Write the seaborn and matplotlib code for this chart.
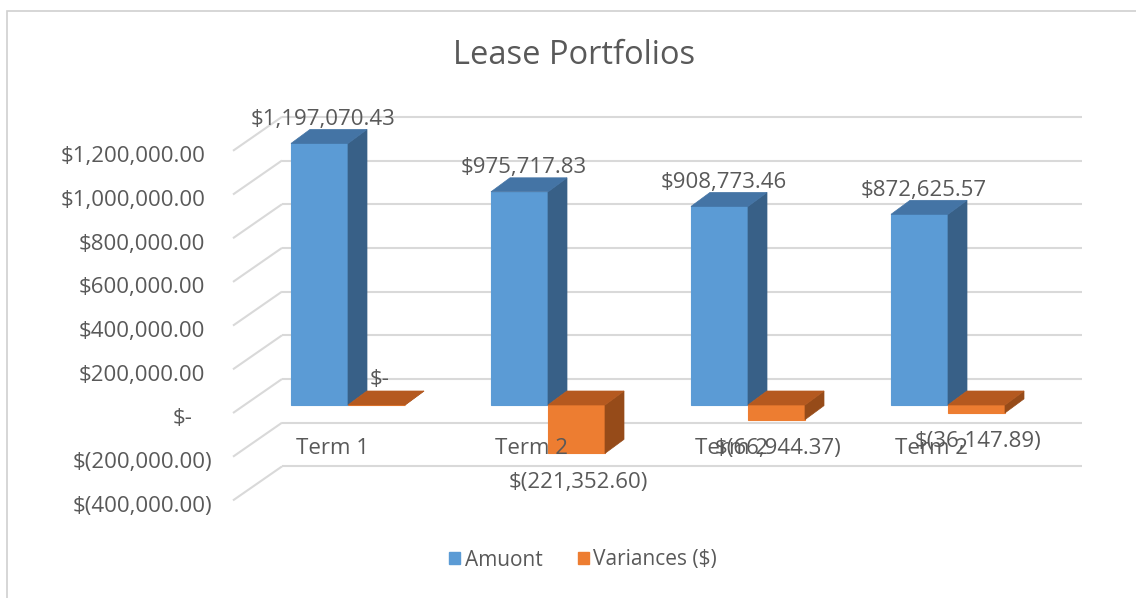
import numpy as np
import pandas as pd
import matplotlib
matplotlib.use("Agg")
import matplotlib.pyplot as plt
from matplotlib.patches import Polygon, Patch, Rectangle
import seaborn as sns

# ---------------- data ----------------
categories = ["Term 1", "Term 2", "Term 2", "Term 2"]
amount = [1197070.43, 975717.83, 908773.46, 872625.57]
variances = [0.0, -221352.60, -66944.37, -36147.89]
series_names = ["Amuont", "Variances ($)"]
y_ticks = [-400000, -200000, 0, 200000, 400000, 600000, 800000, 1000000, 1200000]
title = "Lease Portfolios"

# ---------------- style ----------------
sns.set_theme(style="white")
plt.rcParams['font.family'] = ['Open Sans', 'DejaVu Sans']

TEXT = '#595959'
GRID = '#D9D9D9'
front_colors = ['#5B9BD5', '#ED7D31']
top_colors = ['#4474A5', '#B5591F']
side_colors = ['#386087', '#964B19']
FS = 16


def acct(v):
    if v == 0:
        return "$-"
    s = f"{abs(v):,.2f}"
    return f"$({s})" if v < 0 else f"${s}"


df = pd.DataFrame({
    "pos": list(range(len(categories))) * 2,
    "series": [series_names[0]] * len(amount) + [series_names[1]] * len(variances),
    "value": amount + variances,
})

W, H = 1136, 598
fig = plt.figure(figsize=(W / 100, H / 100), dpi=100)
fig.patch.set_facecolor('white')
ax = fig.add_axes([248 / W, 1 - 492.4 / H, 800 / W, (492.4 - 142.8) / H])

sns.barplot(data=df, x="pos", y="value", hue="series", hue_order=series_names,
            palette=front_colors, width=0.57, dodge=True, ax=ax, saturation=1,
            errorbar=None)
if ax.get_legend() is not None:
    ax.get_legend().remove()

ax.set_xlim(-0.5, len(categories) - 0.5)
ax.set_ylim(y_ticks[0], y_ticks[-1])
ax.axis('off')


def px2data(dxp, dyp):
    inv = ax.transData.inverted()
    o = ax.transData.transform((0, 0))
    p = inv.transform(o + np.array([dxp, dyp]))
    return p[0], p[1]


x_left = -0.5
x_right = len(categories) - 0.5

# back-wall gridlines and side-wall diagonals
bx, by = px2data(34, 26)
lx, ly = px2data(-15, -8)
for v in y_ticks:
    ax.plot([x_left + bx, x_right + bx], [v + by, v + by], color=GRID, lw=1.5,
            zorder=1, clip_on=False, solid_capstyle='butt')
    ax.plot([x_left + lx, x_left + bx], [v + ly, v + by], color=GRID, lw=1.5,
            zorder=1, clip_on=False, solid_capstyle='butt')
    off = -43 if v > 0 else (-36 if v < 0 else -55)
    tx, ty = px2data(off, -14)
    ax.text(x_left + tx, v + ty, acct(v), ha='right', va='center', fontsize=FS,
            color=TEXT, clip_on=False)

# 3D faces for bars
dx, dy = px2data(19, 14)
for ci, cont in enumerate(ax.containers):
    z = 3 + ci * 2
    for bar in cont.patches:
        bar.set_zorder(z)
        bar.set_edgecolor(front_colors[ci])
        bar.set_linewidth(0.8)
        bar.set_clip_on(False)
        x0 = bar.get_x()
        x1 = x0 + bar.get_width()
        y0 = bar.get_y()
        h = bar.get_height()
        lo, hi = min(y0, y0 + h), max(y0, y0 + h)
        side = Polygon([(x1, lo), (x1, hi), (x1 + dx, hi + dy), (x1 + dx, lo + dy)],
                       closed=True, fc=side_colors[ci], ec=side_colors[ci], lw=0.5,
                       zorder=z, clip_on=False)
        top = Polygon([(x0, hi), (x1, hi), (x1 + dx, hi + dy), (x0 + dx, hi + dy)],
                      closed=True, fc=top_colors[ci], ec=top_colors[ci], lw=0.5,
                      zorder=z, clip_on=False)
        ax.add_patch(side)
        ax.add_patch(top)

# category labels
cx, cy = px2data(-16, -44)
for i, c in enumerate(categories):
    ax.text(i + cx, cy, c, ha='center', va='center', fontsize=FS, color=TEXT,
            zorder=8, clip_on=False)

# data labels
for ci, cont in enumerate(ax.containers):
    for bar in cont.patches:
        xc = bar.get_x() + bar.get_width() / 2
        v = bar.get_y() + bar.get_height()
        if ci == 0:
            ox, oy = px2data(4, 24)
        else:
            ox, oy = px2data(3, 25) if v >= 0 else px2data(2, -29)
        ax.text(xc + ox, v + oy, acct(v), ha='center', va='center', fontsize=FS,
                color=TEXT, zorder=9, clip_on=False)

# legend
handles = [Patch(fc=c, ec=c) for c in front_colors]
fig.legend(handles, series_names, loc='center', bbox_to_anchor=(583 / W, 1 - 560 / H),
           ncol=2, frameon=False, fontsize=15, handlelength=0.55, handleheight=0.55,
           handletextpad=0.2, columnspacing=1.7, labelcolor=TEXT)

# title
fig.text(574 / W, 1 - 56 / H, title, ha='center', va='center', fontsize=23.5, color=TEXT)

# chart border
fig.add_artist(Rectangle((7 / W, -0.1), 1.2, (H - 11) / H + 0.1, transform=fig.transFigure,
                         fill=False, ec='#D0D0D0', lw=1.2))

fig.savefig('out.png', dpi=100)
